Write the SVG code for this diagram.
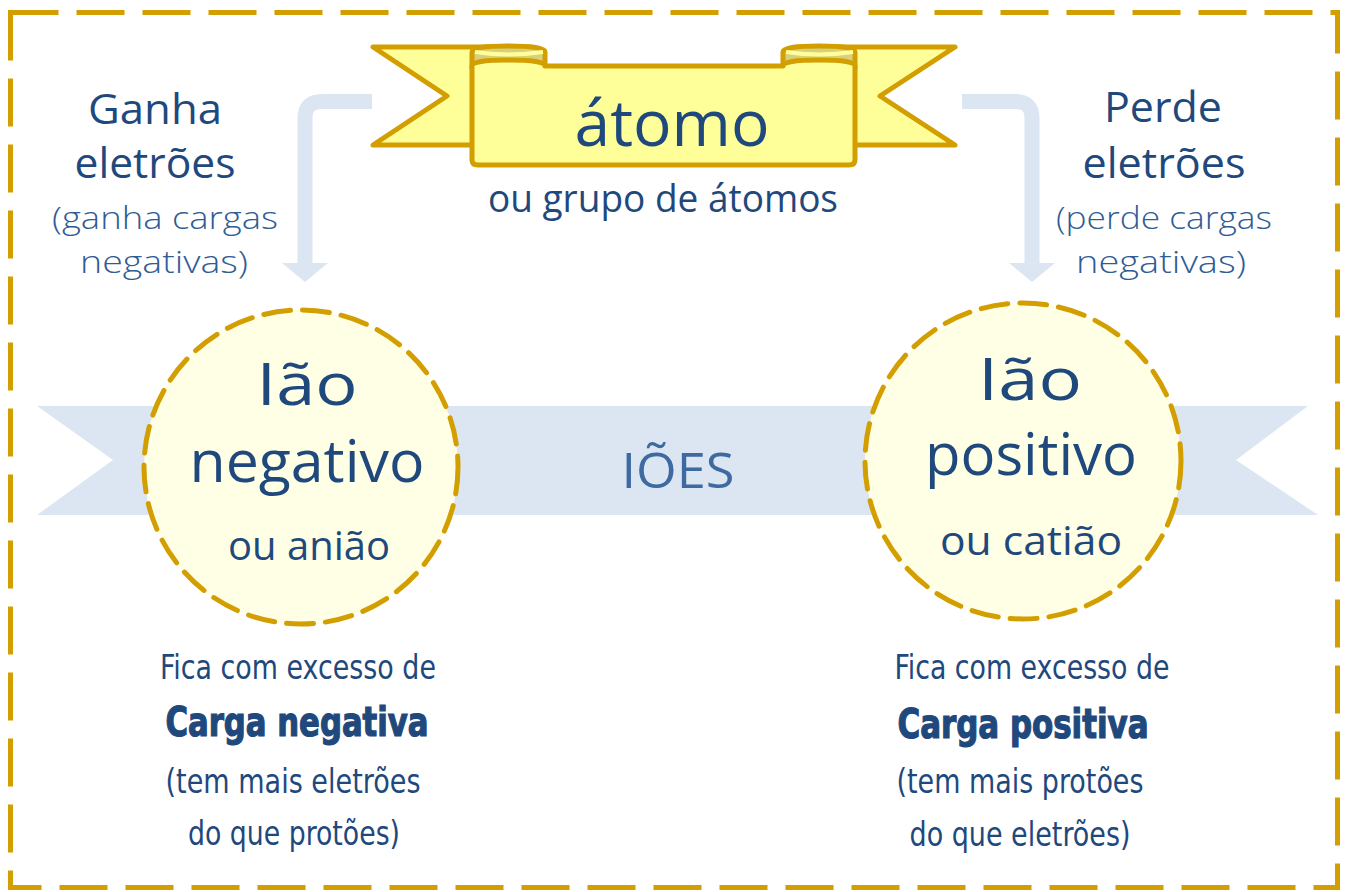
<svg xmlns="http://www.w3.org/2000/svg" width="1350" height="892" viewBox="0 0 1350 892">
<defs>
<style>
.hand{font-family:"Open Sans","Noto Sans",sans-serif;fill:#1f497d;text-anchor:middle}
.light{font-family:"Open Sans","Noto Sans",sans-serif;fill:#2f5c95;text-anchor:middle;font-weight:300}
.cond{font-family:"Liberation Sans Narrow","DejaVu Sans Condensed",sans-serif;fill:#1f497d;text-anchor:middle}
.bold{font-family:"Liberation Sans Narrow","DejaVu Sans Condensed",sans-serif;fill:#1f497d;text-anchor:middle;font-weight:bold;stroke:#1f497d;stroke-width:1.2}
.gold{stroke:#d39e00;stroke-width:5;stroke-linejoin:round;stroke-linecap:round}
.band{fill:#dce6f2}
</style>
</defs>
<rect x="0" y="0" width="1350" height="892" fill="#ffffff"/>
<rect id="frame" x="10.5" y="12.5" width="1327" height="875" fill="none" stroke="#d39e00" stroke-width="5" stroke-dasharray="48 18"/>

<g id="ribbon">
<polygon class="band" points="37,406 1308,406 1236,460 1318,515 37,515 113,460"/>
<text class="hand" x="678" y="488" font-size="50" textLength="113" lengthAdjust="spacingAndGlyphs" style="fill:#3d6aa0">IÕES</text>
</g>

<g id="connectors">
<path d="M372,101.5 L322,101.5 Q305,101.5 305,118 L305,263" fill="none" stroke="#dce6f2" stroke-width="15"/>
<path d="M282,263 L328,263 L305,282 Z" fill="#dce6f2"/>
<path d="M962,101.5 L1015,101.5 Q1032,101.5 1032,118 L1032,263" fill="none" stroke="#dce6f2" stroke-width="15"/>
<path d="M1009,263 L1055,263 L1032,282 Z" fill="#dce6f2"/>
</g>

<g id="atomo">
<polygon class="gold" fill="#ffff99" points="373,47 500,47 500,145 373,145 447,96"/>
<polygon class="gold" fill="#ffff99" points="955,47 830,47 830,145 955,145 880,96"/>
<path class="gold" fill="#d8d07c" d="M472,68 L472,52 Q472,46 508,46 Q545,46 545,52 L545,68 Z"/>
<path class="gold" fill="#d8d07c" d="M783,68 L783,52 Q783,46 819,46 Q855,46 855,52 L855,68 Z"/>
<path d="M475,52 Q508,57 543,52" fill="none" stroke="#ffff99" stroke-width="4"/>
<path d="M786,52 Q819,57 853,52" fill="none" stroke="#ffff99" stroke-width="4"/>
<path class="gold" fill="#ffff99" d="M472,66 Q472,60 508,60 Q545,60 545,66 L783,66 Q783,60 819,60 Q855,60 855,66 L855,160 Q855,165 849,165 L478,165 Q472,165 472,160 Z"/>
<text class="hand" x="672" y="146" font-size="64" textLength="195" lengthAdjust="spacingAndGlyphs">átomo</text>
<text class="hand" x="663" y="212" font-size="38" textLength="350" lengthAdjust="spacingAndGlyphs">ou grupo de átomos</text>
</g>

<g id="ganha">
<text class="hand" x="155" y="124" font-size="42" textLength="134" lengthAdjust="spacingAndGlyphs">Ganha</text>
<text class="hand" x="155" y="178" font-size="42" textLength="161" lengthAdjust="spacingAndGlyphs">eletrões</text>
<text class="light" x="165" y="229" font-size="32" textLength="226" lengthAdjust="spacingAndGlyphs">(ganha cargas</text>
<text class="light" x="164" y="273" font-size="32" textLength="168" lengthAdjust="spacingAndGlyphs">negativas)</text>
</g>

<g id="perde">
<text class="hand" x="1163" y="122" font-size="42" textLength="118" lengthAdjust="spacingAndGlyphs">Perde</text>
<text class="hand" x="1164" y="178" font-size="42" textLength="163" lengthAdjust="spacingAndGlyphs">eletrões</text>
<text class="light" x="1164" y="229" font-size="32" textLength="216" lengthAdjust="spacingAndGlyphs">(perde cargas</text>
<text class="light" x="1161" y="273" font-size="32" textLength="170" lengthAdjust="spacingAndGlyphs">negativas)</text>
</g>

<g id="negativo">
<circle class="gold" cx="301" cy="467" r="157" fill="#ffffe5" stroke-dasharray="27 12" stroke-linecap="butt"/>
<text class="hand" x="307" y="405" font-size="58" textLength="101" lengthAdjust="spacingAndGlyphs">Ião</text>
<text class="hand" x="307" y="482" font-size="58" textLength="235" lengthAdjust="spacingAndGlyphs">negativo</text>
<text class="hand" x="309" y="560" font-size="40" textLength="162" lengthAdjust="spacingAndGlyphs">ou anião</text>
</g>

<g id="positivo">
<circle class="gold" cx="1023" cy="461" r="158" fill="#ffffe5" stroke-dasharray="27 12" stroke-linecap="butt"/>
<text class="hand" x="1030" y="400" font-size="58" textLength="104" lengthAdjust="spacingAndGlyphs">Ião</text>
<text class="hand" x="1031" y="475" font-size="58" textLength="212" lengthAdjust="spacingAndGlyphs">positivo</text>
<text class="hand" x="1031" y="555" font-size="40" textLength="182" lengthAdjust="spacingAndGlyphs">ou catião</text>
</g>

<g id="texto-negativo">
<text class="cond" x="298" y="679" font-size="34" textLength="276" lengthAdjust="spacingAndGlyphs">Fica com excesso de</text>
<text class="bold" x="297" y="736" font-size="40" textLength="263" lengthAdjust="spacingAndGlyphs">Carga negativa</text>
<text class="cond" x="293" y="793" font-size="34" textLength="255" lengthAdjust="spacingAndGlyphs">(tem mais eletrões</text>
<text class="cond" x="294" y="845" font-size="34" textLength="212" lengthAdjust="spacingAndGlyphs">do que protões)</text>
</g>

<g id="texto-positivo">
<text class="cond" x="1032" y="679" font-size="34" textLength="275" lengthAdjust="spacingAndGlyphs">Fica com excesso de</text>
<text class="bold" x="1023" y="738" font-size="40" textLength="251" lengthAdjust="spacingAndGlyphs">Carga positiva</text>
<text class="cond" x="1020" y="793" font-size="34" textLength="247" lengthAdjust="spacingAndGlyphs">(tem mais protões</text>
<text class="cond" x="1020" y="846" font-size="34" textLength="221" lengthAdjust="spacingAndGlyphs">do que eletrões)</text>
</g>
</svg>
